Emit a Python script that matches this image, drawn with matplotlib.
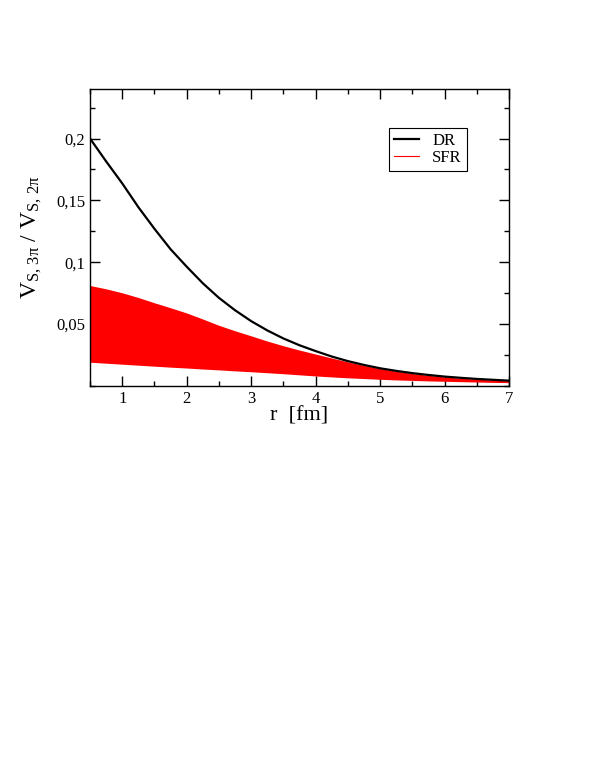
import matplotlib
matplotlib.use("Agg")
import matplotlib.pyplot as plt
from matplotlib.ticker import MultipleLocator, FuncFormatter

# Data (r in fm)
r = [0.5, 0.75, 1.0, 1.25, 1.5, 1.75, 2.0, 2.25, 2.5, 2.75, 3.0, 3.25, 3.5, 3.75,
     4.0, 4.25, 4.5, 4.75, 5.0, 5.25, 5.5, 5.75, 6.0, 6.25, 6.5, 6.75, 7.0]

dr = [0.2000, 0.1815, 0.1637, 0.1445, 0.1270, 0.1105, 0.0964, 0.0830, 0.0712, 0.0612,
      0.0524, 0.0449, 0.0384, 0.0329, 0.0282, 0.0238, 0.0201, 0.0170, 0.0143, 0.0122,
      0.0104, 0.0089, 0.0076, 0.0066, 0.0057, 0.0050, 0.0043]

sfr_upper = [0.0812, 0.0785, 0.0753, 0.0715, 0.0672, 0.0632, 0.0590, 0.0541, 0.0490, 0.0446,
             0.0405, 0.0363, 0.0325, 0.0290, 0.0258, 0.0226, 0.0195, 0.0166, 0.0140, 0.0119,
             0.0101, 0.0086, 0.0073, 0.0063, 0.0055, 0.0048, 0.0041]

sfr_lower = [0.0192, 0.0184, 0.0176, 0.0168, 0.0160, 0.0152, 0.0145, 0.0137, 0.0130, 0.0122,
             0.0115, 0.0107, 0.0099, 0.0090, 0.0081, 0.0073, 0.0066, 0.0060, 0.0054, 0.0049,
             0.0045, 0.0041, 0.0038, 0.0035, 0.0032, 0.0029, 0.0027]

xticks = [1, 2, 3, 4, 5, 6, 7]
yticks = [0.05, 0.1, 0.15, 0.2]

plt.rcParams['font.family'] = ['Liberation Serif', 'DejaVu Serif']
plt.rcParams['mathtext.fontset'] = 'stix'

fig = plt.figure(figsize=(5.99, 7.76), dpi=100)
ax = fig.add_axes([0.1503, 0.5026, 0.6995, 0.3827])

ax.fill_between(r, sfr_lower, sfr_upper, color='#ff0000', linewidth=0, zorder=2)
ax.plot([], [], color='#ff0000', lw=0.8, label='SFR')
ax.plot(r, dr, color='black', lw=1.6, zorder=3, label='DR')

ax.set_xlim(0.5, 7)
ax.set_ylim(0, 0.24)
ax.set_xticks(xticks)
ax.set_yticks(yticks)
ax.xaxis.set_minor_locator(MultipleLocator(0.5))
ax.yaxis.set_minor_locator(MultipleLocator(0.025))
ax.yaxis.set_major_formatter(FuncFormatter(lambda v, p: ('%g' % v).replace('.', ',')))
ax.tick_params(which='both', direction='in', top=True, right=True, labelsize=12, width=1)
ax.tick_params(which='major', length=7)
ax.tick_params(which='minor', length=3.5)
for s in ax.spines.values():
    s.set_linewidth(1.0)

ax.set_xlabel('r  [fm]', fontsize=16, labelpad=0)
ax.set_ylabel(r'$\mathregular{V_{S,\,3\pi}\ /\ V_{S,\,2\pi}}$', fontsize=17, labelpad=9)

handles, labels = ax.get_legend_handles_labels()
order = [labels.index('DR'), labels.index('SFR')]
leg = ax.legend([handles[i] for i in order], [labels[i] for i in order],
                loc='upper left', bbox_to_anchor=(0.713, 0.87), fontsize=12,
                frameon=True, fancybox=False, edgecolor='black', framealpha=1,
                handlelength=1.5, handletextpad=0.8, borderpad=0.3, labelspacing=0.1,
                borderaxespad=0)
leg.get_frame().set_linewidth(0.8)

fig.savefig('out.png', dpi=100)
